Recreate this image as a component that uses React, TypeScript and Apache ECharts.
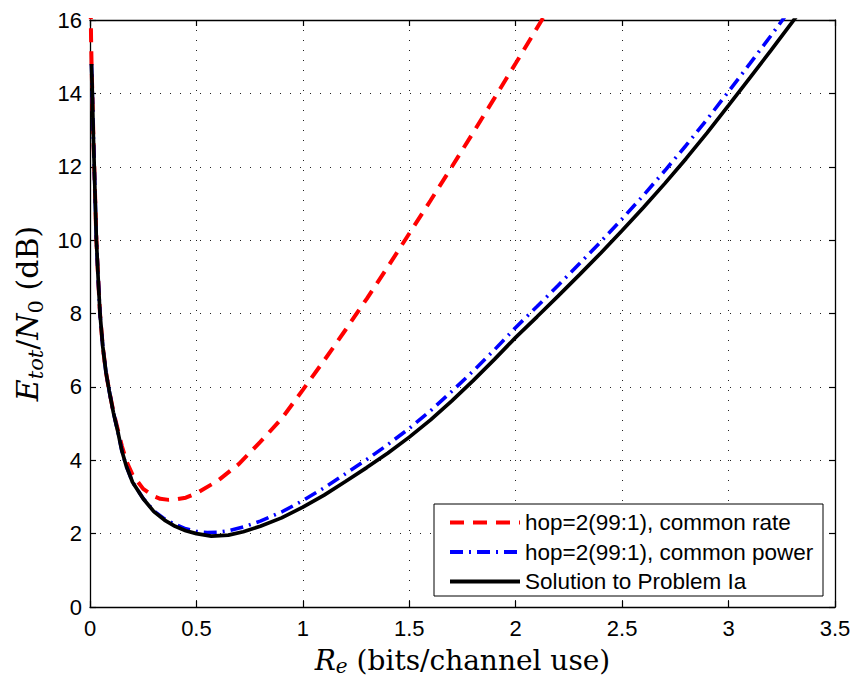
import React, { useEffect, useRef } from "react";
import * as echarts from "echarts";

// Rate axis values (bits/channel use) and Etot/N0 (dB) values
const solutionRate = [0.007, 0.011, 0.015, 0.02, 0.025, 0.03, 0.038, 0.047, 0.06, 0.075, 0.09, 0.11, 0.13, 0.15, 0.17, 0.2, 0.25, 0.3, 0.35, 0.4, 0.45, 0.5, 0.57, 0.65, 0.72, 0.8, 0.9, 1.0, 1.1, 1.2, 1.3, 1.4, 1.5, 1.6, 1.7, 1.8, 1.9, 2.0, 2.1, 2.2, 2.3, 2.4, 2.5, 2.6, 2.7, 2.8, 2.9, 3.0, 3.1, 3.2, 3.3, 3.36];
const solutionDb = [14.8, 14.0, 13.0, 12.0, 11.0, 10.0, 9.0, 8.0, 7.1, 6.4, 5.9, 5.3, 4.8, 4.25, 3.85, 3.4, 2.95, 2.6, 2.37, 2.2, 2.08, 2.0, 1.93, 1.96, 2.05, 2.2, 2.43, 2.72, 3.05, 3.42, 3.8, 4.2, 4.63, 5.1, 5.62, 6.17, 6.75, 7.35, 7.91, 8.48, 9.06, 9.65, 10.26, 10.89, 11.54, 12.22, 12.93, 13.67, 14.42, 15.18, 15.95, 16.42];

const powerRate = [0.007, 0.011, 0.015, 0.02, 0.025, 0.03, 0.038, 0.047, 0.06, 0.075, 0.09, 0.11, 0.13, 0.15, 0.17, 0.2, 0.25, 0.3, 0.35, 0.4, 0.45, 0.5, 0.55, 0.6, 0.65, 0.72, 0.8, 0.9, 1.0, 1.1, 1.2, 1.3, 1.4, 1.5, 1.6, 1.7, 1.8, 1.9, 2.0, 2.1, 2.2, 2.3, 2.4, 2.5, 2.6, 2.7, 2.8, 2.9, 3.0, 3.1, 3.2, 3.3];
const powerDb = [14.8, 14.0, 13.0, 12.0, 11.0, 10.0, 9.0, 8.0, 7.1, 6.4, 5.9, 5.3, 4.8, 4.25, 3.85, 3.4, 2.96, 2.62, 2.4, 2.25, 2.13, 2.06, 2.03, 2.04, 2.08, 2.18, 2.34, 2.59, 2.9, 3.25, 3.63, 4.02, 4.43, 4.87, 5.35, 5.88, 6.43, 7.01, 7.62, 8.19, 8.77, 9.36, 9.96, 10.58, 11.22, 11.89, 12.58, 13.3, 14.05, 14.81, 15.58, 16.37];

const rateRate = [0.003, 0.005, 0.008, 0.011, 0.015, 0.02, 0.025, 0.03, 0.038, 0.047, 0.06, 0.075, 0.09, 0.11, 0.13, 0.15, 0.175, 0.2, 0.25, 0.3, 0.33, 0.37, 0.4, 0.45, 0.5, 0.6, 0.7, 0.8, 0.9, 1.0, 1.1, 1.2, 1.3, 1.4, 1.5, 1.6, 1.7, 1.8, 1.9, 2.0, 2.1, 2.15];
const rateDb = [16.4, 15.5, 14.6, 14.0, 13.0, 12.0, 11.0, 10.0, 9.0, 8.0, 7.1, 6.4, 5.9, 5.32, 4.85, 4.38, 3.92, 3.6, 3.22, 3.02, 2.95, 2.92, 2.93, 2.98, 3.1, 3.44, 3.9, 4.5, 5.13, 5.92, 6.72, 7.55, 8.4, 9.28, 10.18, 11.08, 12.0, 12.93, 13.87, 14.82, 15.78, 16.26];

const seriesNames = [
  "hop=2(99:1), common rate",
  "hop=2(99:1), common power",
  "Solution to Problem Ia",
];

const xMin = 0;
const xMax = 3.5;
const xStep = 0.5;
const yMin = 0;
const yMax = 16;
const yStep = 2;

const zip = (xs: number[], ys: number[]) => xs.map((x, i) => [x, ys[i]]);

const SANS = "'Liberation Sans', Arial, Helvetica, sans-serif";
const SERIF = "'DejaVu Serif', serif";

const makeRich = (size: number, subSize: number, lh: number, subLh: number) => ({
  i: { fontFamily: SERIF, fontStyle: "italic", fontSize: size, lineHeight: lh, color: "#000" },
  n: { fontFamily: SERIF, fontSize: size, lineHeight: lh, color: "#000" },
  s: { fontFamily: SERIF, fontStyle: "italic", fontSize: subSize, lineHeight: subLh, verticalAlign: "bottom", color: "#000" },
  s0: { fontFamily: SERIF, fontSize: subSize, lineHeight: subLh, verticalAlign: "bottom", color: "#000" },
});

export default function App() {
  const ref = useRef<HTMLDivElement>(null);

  useEffect(() => {
    document.body.style.margin = "0";
    if (!ref.current) return;
    const chart = echarts.init(ref.current, undefined, { renderer: "svg" });

    const gridLine = { show: true, lineStyle: { color: "#222", width: 1, type: [1, 9] as any } };
    const axisLine = { show: true, onZero: false, lineStyle: { color: "#000", width: 1.3 } };
    const tick = { show: true, inside: true, length: 6, lineStyle: { color: "#000", width: 1.2 } };

    chart.setOption({
      animation: false,
      backgroundColor: "#fff",
      grid: { left: 90, top: 20, right: 19, bottom: 72, containLabel: false, outerBoundsMode: "none" },
      xAxis: [
        {
          type: "value",
          min: xMin,
          max: xMax,
          interval: xStep,
          position: "bottom",
          axisLine,
          axisTick: tick,
          splitLine: gridLine,
          axisLabel: { fontFamily: SANS, fontSize: 22, color: "#000", margin: 10 },
          name: "{i|R}{s|e}{n| (bits/channel use)}",
          nameLocation: "middle",
          nameGap: 37,
          nameTextStyle: { rich: makeRich(28, 20, 32, 18) },
        },
        {
          type: "value",
          min: xMin,
          max: xMax,
          interval: xStep,
          position: "top",
          axisLine,
          axisTick: tick,
          splitLine: { show: false },
          axisLabel: { show: false },
        },
      ],
      yAxis: [
        {
          type: "value",
          min: yMin,
          max: yMax,
          interval: yStep,
          position: "left",
          axisLine,
          axisTick: tick,
          splitLine: gridLine,
          axisLabel: { fontFamily: SANS, fontSize: 22, color: "#000", margin: 8 },
          name: "{i|E}{s|tot}{n|/}{i|N}{s0|0}{n| (dB)}",
          nameLocation: "middle",
          nameGap: 44,
          nameTextStyle: { rich: makeRich(30, 21, 38, 21) },
        },
        {
          type: "value",
          min: yMin,
          max: yMax,
          interval: yStep,
          position: "right",
          axisLine,
          axisTick: tick,
          splitLine: { show: false },
          axisLabel: { show: false },
        },
      ],
      legend: {
        orient: "vertical",
        left: 448,
        top: 511,
        padding: 0,
        itemWidth: 70,
        itemHeight: 14,
        itemGap: 6.5,
        selectedMode: false,
        z: 20,
        itemStyle: { opacity: 0 },
        lineStyle: { width: 4 },
        textStyle: { fontFamily: SANS, fontSize: 22.5, color: "#000", lineHeight: 22 },
        data: seriesNames,
      },
      graphic: [
        {
          type: "rect",
          z: 10,
          shape: { x: 434, y: 504, width: 389, height: 92 },
          style: { fill: "#fff", stroke: "#000", lineWidth: 1 },
        },
      ],
      series: [
        {
          name: seriesNames[0],
          type: "line",
          data: zip(rateRate, rateDb),
          showSymbol: false,
          symbol: "none",
          clip: true,
          z: 3,
          lineStyle: { color: "#ff0000", width: 4, type: [14, 9] as any },
          itemStyle: { color: "#ff0000" },
        },
        {
          name: seriesNames[1],
          type: "line",
          data: zip(powerRate, powerDb),
          showSymbol: false,
          symbol: "none",
          clip: true,
          z: 3,
          lineStyle: { color: "#0000ff", width: 3.6, type: [13, 6, 2, 6] as any },
          itemStyle: { color: "#0000ff" },
        },
        {
          name: seriesNames[2],
          type: "line",
          data: zip(solutionRate, solutionDb),
          showSymbol: false,
          symbol: "none",
          clip: true,
          z: 4,
          lineStyle: { color: "#000000", width: 3.7, type: "solid" },
          itemStyle: { color: "#000000" },
        },
      ],
    });

    return () => chart.dispose();
  }, []);

  return <div ref={ref} style={{ width: 854, height: 679 }} />;
}
